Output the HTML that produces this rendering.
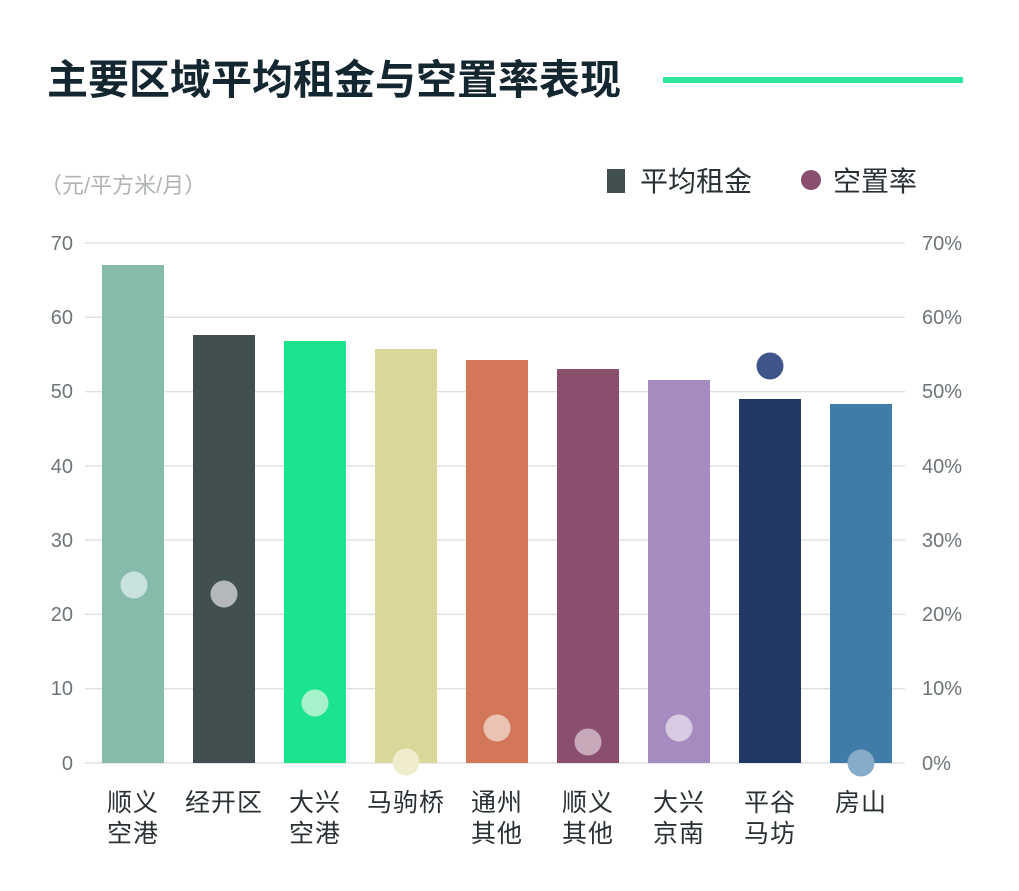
<!DOCTYPE html>
<html><head><meta charset="utf-8"><style>
html,body{margin:0;padding:0;background:#fff;}
body{width:1019px;height:886px;overflow:hidden;}
svg text{font-family:"Liberation Sans","Noto Sans CJK SC",sans-serif;}
</style></head><body>
<svg width="1019" height="886" viewBox="0 0 1019 886">
<text x="47" y="94" font-size="41" font-weight="bold" fill="#14262f">主要区域平均租金与空置率表现</text>
<rect x="663" y="77" width="300" height="6" fill="#2fe39d"/>
<text x="40" y="193" font-size="22" fill="#b0b4b6">（元/平方米/月）</text>
<rect x="607" y="169" width="18" height="24" fill="#414f50"/>
<text x="640" y="191" font-size="28" fill="#2a3135">平均租金</text>
<circle cx="811" cy="180" r="10" fill="#8a4e6e"/>
<text x="833" y="191" font-size="28" fill="#2a3135">空置率</text>
<g stroke="#dfe2e3" stroke-width="1.5">
<line x1="85" x2="905" y1="243" y2="243"/><line x1="85" x2="905" y1="317.3" y2="317.3"/>
<line x1="85" x2="905" y1="391.6" y2="391.6"/><line x1="85" x2="905" y1="465.9" y2="465.9"/>
<line x1="85" x2="905" y1="540.1" y2="540.1"/><line x1="85" x2="905" y1="614.4" y2="614.4"/>
<line x1="85" x2="905" y1="688.7" y2="688.7"/><line x1="85" x2="905" y1="763" y2="763"/>
</g>
<g font-size="20" fill="#6d7478" text-anchor="end">
<text x="73" y="250">70</text><text x="73" y="324">60</text><text x="73" y="398">50</text><text x="73" y="473">40</text>
<text x="73" y="547">30</text><text x="73" y="621">20</text><text x="73" y="695">10</text><text x="73" y="770">0</text>
</g>
<g font-size="20" fill="#6d7478">
<text x="922" y="250">70%</text><text x="922" y="324">60%</text><text x="922" y="398">50%</text><text x="922" y="473">40%</text>
<text x="922" y="547">30%</text><text x="922" y="621">20%</text><text x="922" y="695">10%</text><text x="922" y="770">0%</text>
</g>
<rect x="102" y="265" width="62" height="498" fill="#86bbac"/>
<rect x="193" y="335" width="62" height="428" fill="#414f50"/>
<rect x="284" y="341" width="62" height="422" fill="#1ce48e"/>
<rect x="375" y="349" width="62" height="414" fill="#d9d79a"/>
<rect x="466" y="360" width="62" height="403" fill="#d2775a"/>
<rect x="557" y="369" width="62" height="394" fill="#8a4e6e"/>
<rect x="648" y="380" width="62" height="383" fill="#a48bc0"/>
<rect x="739" y="399" width="62" height="364" fill="#223763"/>
<rect x="830" y="404" width="62" height="359" fill="#3f7da8"/>
<circle cx="134" cy="585" r="13.5" fill="#c8e2de"/>
<circle cx="224" cy="594" r="13.5" fill="#b4b8ba"/>
<circle cx="315" cy="703" r="13.5" fill="#a6f2ca"/>
<circle cx="406" cy="762" r="13.5" fill="#efedcc"/>
<circle cx="497" cy="728" r="13.5" fill="#ecc3b3"/>
<circle cx="588" cy="742" r="13.5" fill="#c7a9b9"/>
<circle cx="679" cy="728" r="13.5" fill="#d9cbe4"/>
<circle cx="770" cy="366" r="13.5" fill="#3f5489"/>
<circle cx="861" cy="763" r="13.5" fill="#86acc9"/>
<g font-size="25" fill="#2a3135" text-anchor="middle" letter-spacing="1">
<text x="133" y="811">顺义</text><text x="133" y="842">空港</text>
<text x="224" y="811">经开区</text>
<text x="315" y="811">大兴</text><text x="315" y="842">空港</text>
<text x="406" y="811">马驹桥</text>
<text x="497" y="811">通州</text><text x="497" y="842">其他</text>
<text x="588" y="811">顺义</text><text x="588" y="842">其他</text>
<text x="679" y="811">大兴</text><text x="679" y="842">京南</text>
<text x="770" y="811">平谷</text><text x="770" y="842">马坊</text>
<text x="861" y="811">房山</text>
</g>
</svg>
</body></html>
